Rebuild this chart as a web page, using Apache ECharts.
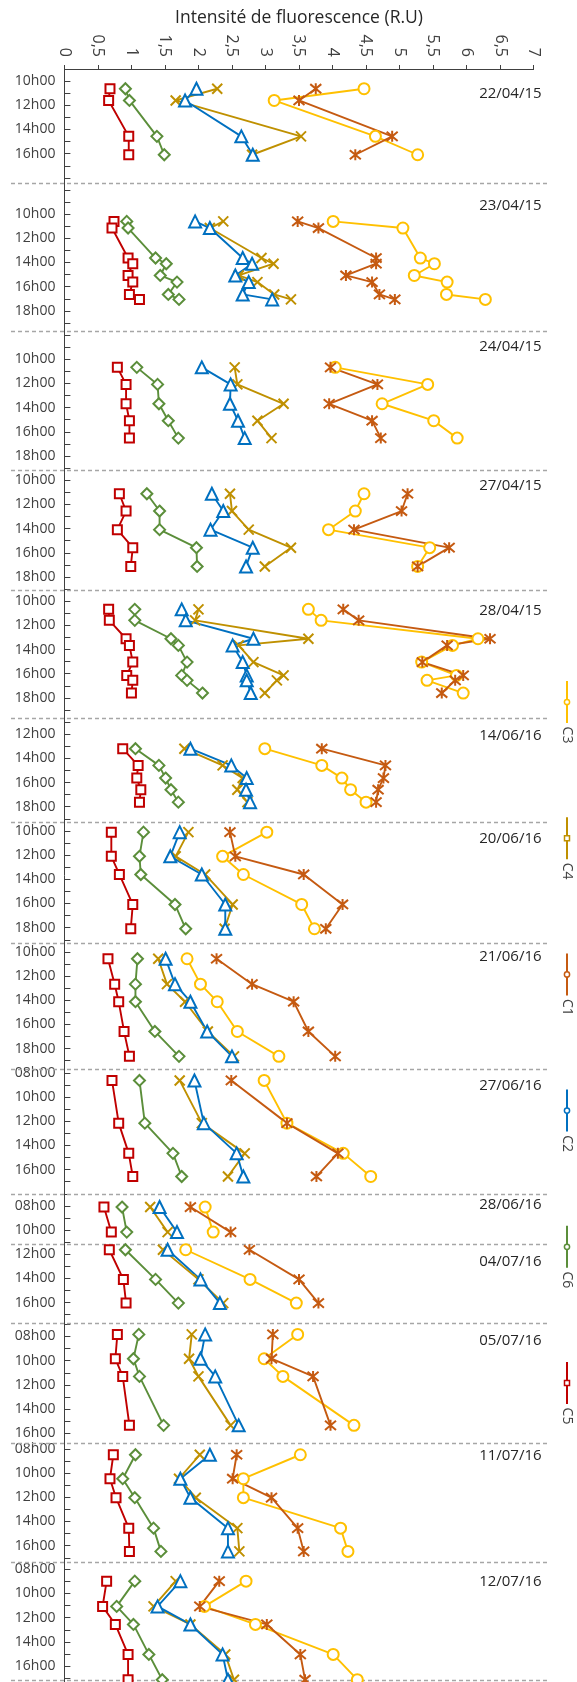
<!DOCTYPE html>
<html><head><meta charset="utf-8">
<script src="https://cdn.jsdelivr.net/npm/echarts@6/dist/echarts.min.js"></script>
<style>html,body{margin:0;padding:0;background:#fff}#c{width:577px;height:1682px}</style>
</head><body><div id="c"></div>
<script>
// ---------- DATA ----------
const seriesNames = ['C3', 'C4', 'C1', 'C2', 'C6', 'C5'];
const dates = ['22/04/15','23/04/15','24/04/15','27/04/15','28/04/15','14/06/16','20/06/16','21/06/16','27/06/16','28/06/16','04/07/16','05/07/16','11/07/16','12/07/16'];
// hour window shown for each date block (decimal hours)
const panelFrom = [9.0, 7.43, 7.67, 9.19, 9.11, 10.64, 9.27, 9.28, 7.66, 7.0, 11.13, 6.89, 7.48, 7.41];
const panelTo   = [18.43, 19.67, 19.19, 19.11, 19.64, 19.27, 19.28, 19.66, 18.0, 11.13, 17.69, 16.78, 17.36, 17.19];
// tick labels (hours) for each block
const hourLabels = [[10,12,14,16],[10,12,14,16,18],[10,12,14,16,18],[10,12,14,16,18],[10,12,14,16,18],[12,14,16,18],[10,12,14,16,18],[10,12,14,16,18],[8,10,12,14,16],[8,10],[12,14,16],[8,10,12,14,16],[8,10,12,14,16],[8,10,12,14,16]];
// sampling times (decimal hours) per date
const sampleTimes = [
  [10.63, 11.6, 14.57, 16.09],
  [10.6, 11.15, 13.63, 14.1, 15.07, 15.62, 16.64, 17.05],
  [10.67, 12.08, 13.68, 15.08, 16.52],
  [11.12, 12.55, 14.09, 15.58, 17.13],
  [10.68, 11.59, 13.11, 13.66, 15.04, 16.14, 16.55, 17.6],
  [13.2, 14.58, 15.63, 16.59, 17.62],
  [10.1, 12.1, 13.6, 16.08, 18.09],
  [10.57, 12.67, 14.12, 16.58, 18.64],
  [8.63, 12.16, 14.66, 16.57],
  [8.1, 10.17],
  [11.63, 14.08, 16.04],
  [7.83, 9.84, 11.3, 15.35],
  [8.48, 10.46, 12.03, 14.55, 16.47],
  [8.98, 11.07, 12.56, 15.04, 17.13]
];
// fluorescence intensity (R.U) per date
const C3 = [[4.47,3.13,4.64,5.27],[4.01,5.05,5.31,5.52,5.22,5.71,5.70,6.28],[4.04,5.42,4.74,5.51,5.86],[4.47,4.34,3.94,5.45,5.27],[3.64,3.83,6.17,5.79,5.33,5.85,5.41,5.95],[2.99,3.84,4.14,4.27,4.50],[3.02,2.36,2.67,3.54,3.73],[1.83,2.03,2.28,2.58,3.20],[2.98,3.32,4.16,4.57],[2.10,2.22],[1.81,2.77,3.46],[3.48,2.98,3.26,4.32],[3.52,2.67,2.67,4.12,4.23],[2.71,2.09,2.85,4.01,4.37]];
const C4 = [[2.28,1.66,3.53,2.80],[2.37,2.17,2.94,3.12,2.60,2.88,3.13,3.38],[2.54,2.58,3.27,2.88,3.09],[2.47,2.50,2.75,3.38,2.99],[2.00,1.95,3.64,2.60,2.82,3.27,3.17,2.99],[1.79,2.36,2.66,2.58,2.73],[1.85,1.66,2.10,2.51,2.39],[1.40,1.53,1.80,2.14,2.53],[1.72,2.05,2.69,2.44],[1.28,1.54],[1.47,2.00,2.37],[1.90,1.86,2.00,2.48],[2.02,1.71,1.96,2.58,2.61],[1.66,1.33,1.88,2.40,2.53]];
const C1 = [[3.75,3.50,4.89,4.34],[3.48,3.79,4.65,4.65,4.20,4.59,4.70,4.93],[3.97,4.67,3.95,4.59,4.72],[5.12,5.03,4.32,5.74,5.27],[4.16,4.39,6.35,5.71,5.34,5.95,5.83,5.63],[3.84,4.79,4.76,4.68,4.65],[2.47,2.55,3.57,4.15,3.90],[2.27,2.80,3.42,3.64,4.04],[2.49,3.32,4.08,3.76],[1.88,2.48],[2.76,3.50,3.79],[3.11,3.09,3.71,3.97],[2.57,2.51,3.09,3.48,3.57],[2.31,2.02,3.02,3.52,3.59]];
const C2 = [[1.97,1.80,2.64,2.81],[1.95,2.17,2.66,2.80,2.55,2.75,2.66,3.10],[2.05,2.48,2.47,2.59,2.69],[2.20,2.37,2.18,2.81,2.71],[1.75,1.81,2.82,2.51,2.66,2.72,2.72,2.78],[1.88,2.49,2.72,2.71,2.77],[1.72,1.58,2.05,2.40,2.40],[1.51,1.65,1.88,2.13,2.50],[1.94,2.08,2.57,2.67],[1.42,1.68],[1.54,2.03,2.32],[2.10,2.03,2.25,2.60],[2.17,1.73,1.88,2.44,2.44],[1.73,1.39,1.88,2.36,2.44]];
const C6 = [[0.91,0.97,1.38,1.49],[0.93,0.95,1.36,1.52,1.43,1.68,1.55,1.71],[1.08,1.39,1.41,1.55,1.70],[1.23,1.42,1.42,1.97,1.98],[1.05,1.05,1.59,1.70,1.83,1.75,1.83,2.06],[1.06,1.41,1.51,1.59,1.70],[1.18,1.12,1.14,1.65,1.81],[1.09,1.06,1.06,1.35,1.71],[1.12,1.20,1.62,1.75],[0.86,0.93],[0.91,1.36,1.70],[1.11,1.03,1.12,1.48],[1.06,0.87,1.05,1.33,1.44],[1.05,0.78,1.03,1.26,1.46]];
const C5 = [[0.68,0.66,0.96,0.96],[0.74,0.71,0.95,1.02,0.95,1.02,0.97,1.12],[0.79,0.92,0.92,0.97,0.97],[0.82,0.92,0.79,1.02,0.99],[0.66,0.67,0.92,0.97,1.02,0.93,1.02,1.00],[0.87,1.10,1.08,1.14,1.12],[0.70,0.70,0.82,1.02,0.99],[0.65,0.75,0.81,0.89,0.97],[0.71,0.81,0.96,1.02],[0.59,0.70],[0.67,0.88,0.92],[0.79,0.76,0.87,0.97],[0.73,0.68,0.77,0.96,0.97],[0.63,0.57,0.76,0.95,0.95]];

// ---------- LAYOUT / STYLE ----------
const dateLabelHour = [11.04, 9.28, 8.94, 10.43, 10.77, 12.1, 10.64, 10.43, 9.04, 7.88, 12.65, 8.33, 8.54, 9.06];
const colors = {C3:'#FFC000', C4:'#BF9000', C1:'#C55A11', C2:'#0070C0', C6:'#5B8E3A', C5:'#C00000'};
const symbols = {
  C3: {symbol:'circle', size:11},
  C4: {symbol:'path://M0,0L10,10M10,0L0,10', size:10},
  C1: {symbol:'path://M0,0L10,10M10,0L0,10M5,-1L5,11', size:11},
  C2: {symbol:'triangle', size:12},
  C6: {symbol:'diamond', size:11},
  C5: {symbol:'rect', size:9}
};
const valuesByName = {C3, C4, C1, C2, C6, C5};
const FONT = "'Open Sans', 'Liberation Sans', sans-serif";

// continuous position along the vertical axis
const starts = [];
let acc = 0;
for (let p = 0; p < dates.length; p++) { starts.push(acc); acc += panelTo[p] - panelFrom[p]; }
const total = acc;
const K = (p, h) => starts[p] + (h - panelFrom[p]);

const tickVals = [];
const labelVals = [];
const labelMap = {};
const key = v => Math.round(v * 1000);
for (let p = 0; p < dates.length; p++) {
  for (let h = Math.ceil(panelFrom[p]); h < panelTo[p]; h++) tickVals.push(K(p, h));
  hourLabels[p].forEach(h => {
    const v = K(p, h);
    labelVals.push(v);
    labelMap[key(v)] = (h < 10 ? '0' : '') + h + 'h00';
  });
}

const series = seriesNames.map(name => {
  const data = [];
  valuesByName[name].forEach((vals, p) => {
    vals.forEach((v, j) => data.push([v, K(p, sampleTimes[p][j])]));
    data.push(['-', '-']);
  });
  const c = colors[name];
  return {
    name, type: 'line', data,
    symbol: symbols[name].symbol, symbolSize: symbols[name].size,
    showAllSymbol: true, connectNulls: false, clip: false,
    lineStyle: {color: c, width: 1.9},
    itemStyle: {color: '#fff', borderColor: c, borderWidth: 2},
    emphasis: {disabled: true},
    z: 2
  };
});

const chart = echarts.init(document.getElementById('c'), null, {renderer: 'canvas'});
chart.setOption({
  animation: false,
  backgroundColor: '#fff',
  grid: {left: 64.4, right: 43.4, top: 69, bottom: 0},
  xAxis: {
    type: 'value', position: 'top', min: 0, max: 7, interval: 0.5,
    name: 'Intensité de fluorescence (R.U)', nameLocation: 'middle', nameGap: 39,
    nameTextStyle: {fontSize: 17.5, color: '#262626', fontFamily: FONT},
    axisLine: {show: true, lineStyle: {color: '#404040', width: 1}},
    axisTick: {show: true, inside: false, length: 4, lineStyle: {color: '#404040'}},
    axisLabel: {rotate: -90, margin: 12, fontSize: 16, color: '#404040', fontFamily: FONT,
      formatter: v => String(v).replace('.', ',')},
    splitLine: {show: false}
  },
  yAxis: {
    type: 'value', inverse: true, min: 0, max: total + 0.13,
    axisLine: {show: true, lineStyle: {color: '#404040', width: 1}},
    axisTick: {show: true, inside: true, length: 6, customValues: tickVals, lineStyle: {color: '#404040'}},
    axisLabel: {customValues: labelVals, margin: 9, fontSize: 14, color: '#404040', fontFamily: FONT,
      formatter: v => labelMap[key(v)] || ''},
    splitLine: {show: false}
  },
  series
});

// date captions, dashed separators, vertical legend
const g = [];
const xRight = chart.convertToPixel({xAxisIndex: 0}, 7) + 8;
dates.forEach((d, p) => {
  const y = chart.convertToPixel({yAxisIndex: 0}, K(p, dateLabelHour[p]));
  g.push({type: 'text', x: xRight, y, z: 10,
    style: {text: d, fill: '#262626', font: '15px ' + FONT, align: 'right', verticalAlign: 'middle', textAlign: 'right', textVerticalAlign: 'middle'}});
  const ys = Math.round(chart.convertToPixel({yAxisIndex: 0}, K(p, panelTo[p]))) + 0.5;
  g.push({type: 'line', z: 1, shape: {x1: 11, y1: ys, x2: 550, y2: ys},
    style: {stroke: '#A6A6A6', lineWidth: 1.5, lineDash: [4, 3]}});
});
seriesNames.forEach((name, i) => {
  const c = colors[name];
  const yc = 702 + i * 136.2;
  const xc = 567;
  g.push({type: 'line', shape: {x1: xc, y1: yc - 21, x2: xc, y2: yc + 21}, style: {stroke: c, lineWidth: 2}});
  if (name === 'C4' || name === 'C5') {
    g.push({type: 'rect', shape: {x: xc - 2.5, y: yc - 2.5, width: 5, height: 5}, style: {fill: '#fff', stroke: c, lineWidth: 1.5}});
  } else {
    g.push({type: 'circle', shape: {cx: xc, cy: yc, r: 2.6}, style: {fill: '#fff', stroke: c, lineWidth: 1.5}});
  }
  g.push({type: 'text', x: xc, y: yc + 33, rotation: -Math.PI / 2,
    style: {text: name, fill: '#404040', font: '14px ' + FONT, align: 'center', verticalAlign: 'middle', textAlign: 'center', textVerticalAlign: 'middle'}});
});
chart.setOption({graphic: g});
</script>
</body></html>
